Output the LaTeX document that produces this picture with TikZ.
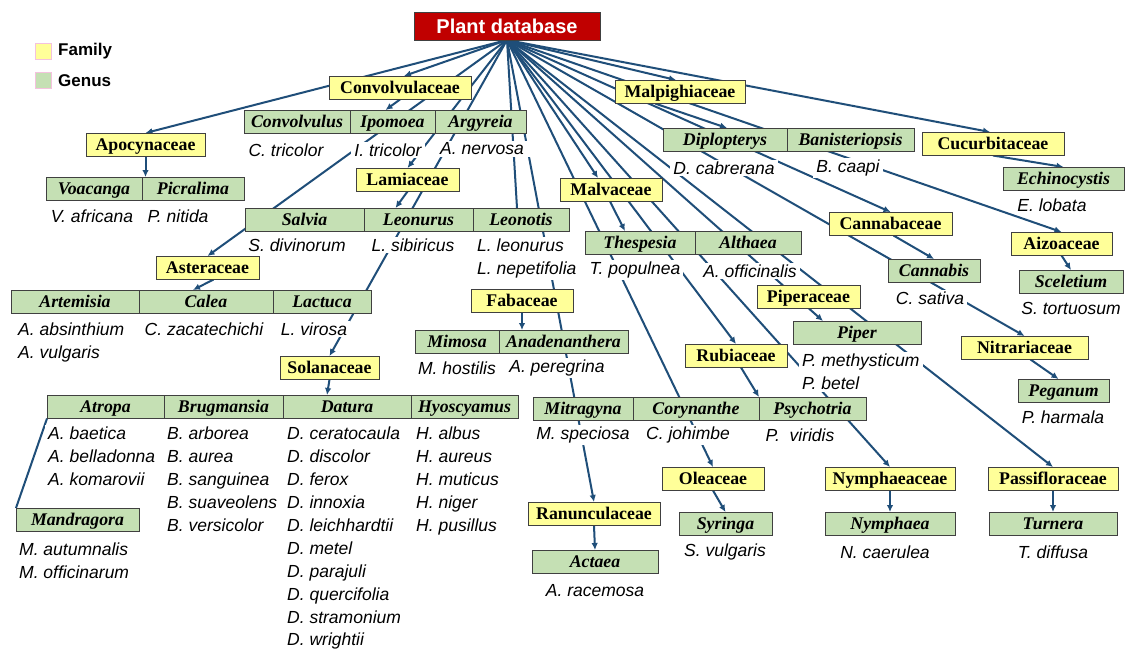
\documentclass[tikz,border=0pt]{standalone}
\usepackage{fontspec}
\setmainfont{Liberation Serif}
\setsansfont{Liberation Sans}
\usetikzlibrary{positioning,arrows.meta}
\definecolor{famyellow}{HTML}{FFFF99}
\definecolor{gengreen}{HTML}{C5E0B4}
\definecolor{dbred}{HTML}{C00000}
\definecolor{linkblue}{HTML}{1F4E79}
\definecolor{boxline}{HTML}{404040}
\definecolor{legpink}{HTML}{F4C2DE}
\pgfdeclarelayer{back}
\pgfsetlayers{back,main}
\begin{document}
\begin{tikzpicture}
[x=1pt,y=-1pt,
box/.style={draw=boxline,line width=1pt,inner sep=0pt,outer sep=0pt,minimum height=23.5pt,
  text height=12pt,text depth=1pt,anchor=north west},
fam/.style={box,fill=famyellow,font=\fontsize{17.8}{21}\selectfont\bfseries},
gen/.style={box,fill=gengreen,font=\fontsize{17.8}{21}\selectfont\bfseries\itshape},
spec/.style={fill=white,inner xsep=3pt,inner ysep=2pt,font=\fontsize{17.5}{22.9}\selectfont\sffamily\itshape},
specs/.style={spec,align=left,anchor=north west},
legbox/.style={draw=legpink,line width=1pt,minimum width=16pt,minimum height=16pt,inner sep=0pt,anchor=north west},
legtext/.style={inner sep=0pt,font=\fontsize{17}{20}\selectfont\sffamily\bfseries},
link/.style={draw=linkblue,line width=2pt},
arr/.style={link,-{Latex[length=7pt,width=6.5pt]}},
]
\begin{pgfonlayer}{back}
\fill[white] (0,0) rectangle (1125,649);
\end{pgfonlayer}
\useasboundingbox (0,0) rectangle (1125,649);

\node[draw=boxline,line width=1pt,fill=dbred,text=white,inner sep=0pt,outer sep=0pt,
  minimum width=186pt,minimum height=28pt,anchor=north west,
  font=\fontsize{20}{24}\selectfont\sffamily\bfseries] (root) at (414,12) {Plant database};

\node[legbox,fill=famyellow] (legfam) at (35,43) {};
\node[legtext,right=6pt of legfam] (legfamtxt) {Family};
\node[legbox,fill=gengreen] (leggen) at (35,72) {};
\node[legtext,right=6pt of leggen] (leggentxt) {Genus};

% families
\node[fam,minimum width=119pt] (apoc) at (86,133) {Apocynaceae};
\node[fam,minimum width=142pt] (conv) at (329,76) {Convolvulaceae};
\node[fam,minimum width=103pt] (lamiac) at (356,168) {Lamiaceae};
\node[fam,minimum width=103pt] (aster) at (156,256) {Asteraceae};
\node[fam,minimum width=99pt] (solan) at (280,356) {Solanaceae};
\node[fam,minimum width=102pt] (fabac) at (471,289) {Fabaceae};
\node[fam,minimum width=132pt] (ranunc) at (528,502) {Ranunculaceae};
\node[fam,minimum width=102pt] (oleac) at (662,467) {Oleaceae};
\node[fam,minimum width=130pt] (nymph) at (825,467) {Nymphaeaceae};
\node[fam,minimum width=130pt] (passi) at (988,467) {Passifloraceae};
\node[fam,minimum width=102pt] (malv) at (560,178) {Malvaceae};
\node[fam,minimum width=130pt] (malpig) at (615,80) {Malpighiaceae};
\node[fam,minimum width=142pt] (cucurb) at (922,132) {Cucurbitaceae};
\node[fam,minimum width=123pt] (cannabac) at (829,212) {Cannabaceae};
\node[fam,minimum width=101pt] (aizo) at (1011,232) {Aizoaceae};
\node[fam,minimum width=103pt] (piperac) at (757,285) {Piperaceae};
\node[fam,minimum width=102pt] (rubiac) at (685,344) {Rubiaceae};
\node[fam,minimum width=127pt] (nitra) at (961,336) {Nitrariaceae};

% genera
\node[gen,minimum width=96pt] (voacanga) at (46,177) {Voacanga};
\node[gen,minimum width=102pt,right=0pt of voacanga] (picralima) {Picralima};
\node[gen,minimum width=106pt] (convolvulus) at (244,110) {Convolvulus};
\node[gen,minimum width=85pt,right=0pt of convolvulus] (ipomoea) {Ipomoea};
\node[gen,minimum width=91pt,right=0pt of ipomoea] (argyreia) {Argyreia};
\node[gen,minimum width=119pt] (salvia) at (245,208) {Salvia};
\node[gen,minimum width=109pt,right=0pt of salvia] (leonurus) {Leonurus};
\node[gen,minimum width=96pt,right=0pt of leonurus] (leonotis) {Leonotis};
\node[gen,minimum width=128pt] (artemisia) at (11,290) {Artemisia};
\node[gen,minimum width=134pt,right=0pt of artemisia] (calea) {Calea};
\node[gen,minimum width=98pt,right=0pt of calea] (lactuca) {Lactuca};
\node[gen,minimum width=117pt] (atropa) at (47,395) {Atropa};
\node[gen,minimum width=119pt,right=0pt of atropa] (brugmansia) {Brugmansia};
\node[gen,minimum width=128pt,right=0pt of brugmansia] (datura) {Datura};
\node[gen,minimum width=107pt,right=0pt of datura] (hyoscyamus) {Hyoscyamus};
\node[gen,minimum width=123pt] (mandragora) at (16,508) {Mandragora};
\node[gen,minimum width=84pt] (mimosa) at (415,330) {Mimosa};
\node[gen,minimum width=129pt,right=0pt of mimosa] (anadenanthera) {Anadenanthera};
\node[gen,minimum width=100pt] (mitragyna) at (533,397) {Mitragyna};
\node[gen,minimum width=126pt,right=0pt of mitragyna] (corynanthe) {Corynanthe};
\node[gen,minimum width=107pt,right=0pt of corynanthe] (psychotria) {Psychotria};
\node[gen,minimum width=126pt] (actaea) at (532,550) {Actaea};
\node[gen,minimum width=93pt] (syringa) at (679,512) {Syringa};
\node[gen,minimum width=130pt] (nymphaea) at (825,512) {Nymphaea};
\node[gen,minimum width=128pt] (turnera) at (989,512) {Turnera};
\node[gen,minimum width=110pt] (thespesia) at (585,231) {Thespesia};
\node[gen,minimum width=106pt,right=0pt of thespesia] (althaea) {Althaea};
\node[gen,minimum width=124pt] (diplo) at (663,128) {Diplopterys};
\node[gen,minimum width=127pt,right=0pt of diplo] (banis) {Banisteriopsis};
\node[gen,minimum width=121pt] (echino) at (1003,167) {Echinocystis};
\node[gen,minimum width=92pt] (cannabis) at (888,259) {Cannabis};
\node[gen,minimum width=104pt] (sceletium) at (1019,270) {Sceletium};
\node[gen,minimum width=128pt] (piper) at (793,321) {Piper};
\node[gen,minimum width=91pt] (peganum) at (1018,379) {Peganum};

% species
\node[spec] (ctri) at (286,150) {C. tricolor};
\node[spec] (itri) at (388,150) {I. tricolor};
\node[spec,inner xsep=7pt] (anerv) at (482,149) {A. nervosa};
\node[spec] (vafr) at (92,216) {V. africana};
\node[spec] (pnit) at (178,216) {P. nitida};
\node[spec] (sdiv) at (297,245) {S. divinorum};
\node[spec] (lsib) at (413,245) {L. sibiricus};
\node[specs] (leonsp) at (474,237) {L. leonurus\\L. nepetifolia};
\node[specs] (artesp) at (15,321) {A. absinthium\\A. vulgaris};
\node[spec] (czac) at (204,329) {C. zacatechichi};
\node[spec] (lvir) at (314,329) {L. virosa};
\node[spec] (mhos) at (457,368) {M. hostilis};
\node[spec] (aper) at (557,368) {A. peregrina};
\node[specs] (atrosp) at (45,425) {A. baetica\\A. belladonna\\A. komarovii};
\node[specs] (brugsp) at (164,425) {B. arborea\\B. aurea\\B. sanguinea\\B. suaveolens\\B. versicolor};
\node[specs] (datsp) at (284,425) {D. ceratocaula\\D. discolor\\D. ferox\\D. innoxia\\D. leichhardtii\\D. metel\\D. parajuli\\D. quercifolia\\D. stramonium\\D. wrightii};
\node[specs] (hyossp) at (413,425) {H. albus\\H. aureus\\H. muticus\\H. niger\\H. pusillus};
\node[specs] (mandsp) at (16,541) {M. autumnalis\\M. officinarum};
\node[spec] (mspe) at (583,435) {M. speciosa};
\node[spec] (cjoh) at (688,435) {C. johimbe};
\node[spec] (pvir) at (800,435) {P.\ \ viridis};
\node[spec] (arac) at (595,591) {A. racemosa};
\node[spec] (svul) at (725,552) {S. vulgaris};
\node[spec] (ncae) at (885,552) {N. caerulea};
\node[spec] (tdif) at (1053,552) {T. diffusa};
\node[spec] (tpop) at (635,270) {T. populnea};
\node[spec] (aoff) at (750,271) {A. officinalis};
\node[spec] (dcab) at (724,168) {D. cabrerana};
\node[spec] (bcaa) at (848,168) {B. caapi};
\node[spec] (elob) at (1052,205) {E. lobata};
\node[spec] (csat) at (930,298) {C. sativa};
\node[spec] (stor) at (1071,308) {S. tortuosum};
\node[specs] (pipsp) at (799,352) {P. methysticum\\P. betel};
\node[spec] (phar) at (1063,417) {P. harmala};

\begin{pgfonlayer}{back}
\draw[arr] (root.south) -- (apoc.north);
\draw[arr] (apoc.south) -- (apoc.south |- picralima.north);
\draw[arr] (root.south) -- ([xshift=4pt]conv.north);
\draw[arr] (conv.south) -- ([xshift=-7pt]ipomoea.north);
\draw[arr] (root.south) -- (aster.north);
\draw[arr] ([xshift=6pt]aster.south) -- ([xshift=-13pt]calea.north);
\draw[arr] (root.south) -- (lamiac.north);
\draw[arr] (lamiac.south) -- ([xshift=-23pt]leonurus.north);
\draw[arr] (root.south) -- (solan.north);
\draw[arr] (solan.south) -- ([xshift=-20pt]datura.north);
\draw[link] (atropa.south west) -- (mandragora.north west);
\draw[link] (root.south) -- ([xshift=-4pt]leonotis.north);
\draw[arr] (fabac.south) -- (fabac.south |- mimosa.north);
\draw[arr] (root.south) -- (ranunc.north);
\draw[arr] (ranunc.south) -- (actaea.north);
\draw[arr] (root.south) -- ([xshift=-13pt]malv.north);
\draw[arr] ([xshift=-1pt]malv.south) -- ([xshift=-15pt]thespesia.north);
\draw[arr] (root.south) -- (oleac.north);
\draw[arr] (oleac.south) -- (syringa.north);
\draw[arr] (root.south) -- (rubiac.north);
\draw[arr] ([xshift=5pt]rubiac.south) -- (psychotria.north west);
\draw[arr] (root.south) -- (nymph.north);
\draw[arr] (nymph.south) -- (nymphaea.north);
\draw[arr] (root.south) -- ([xshift=-34pt]piper.north);
\draw[arr] (root.south) -- (passi.north);
\draw[arr] (passi.south) -- (turnera.north);
\draw[arr] (root.south) -- (nitra.north);
\draw[arr] ([xshift=6pt]nitra.south) -- ([xshift=-5pt]peganum.north);
\draw[arr] (root.south) -- (cannabac.north);
\draw[arr] ([xshift=3pt]cannabac.south) -- (cannabis.north);
\draw[arr] (root.south) -- (aizo.north);
\draw[arr] (aizo.south) -- (sceletium.north);
\draw[arr] (root.south) -- ([xshift=-3pt]cucurb.north);
\draw[arr] (cucurb.south) -- (echino.north);
\draw[arr] (root.south) -- ([xshift=-4pt]malpig.north);
\draw[arr] ([xshift=-25pt]malpig.south) -- ([xshift=2pt]diplo.north);
\end{pgfonlayer}
\end{tikzpicture}
\end{document}
